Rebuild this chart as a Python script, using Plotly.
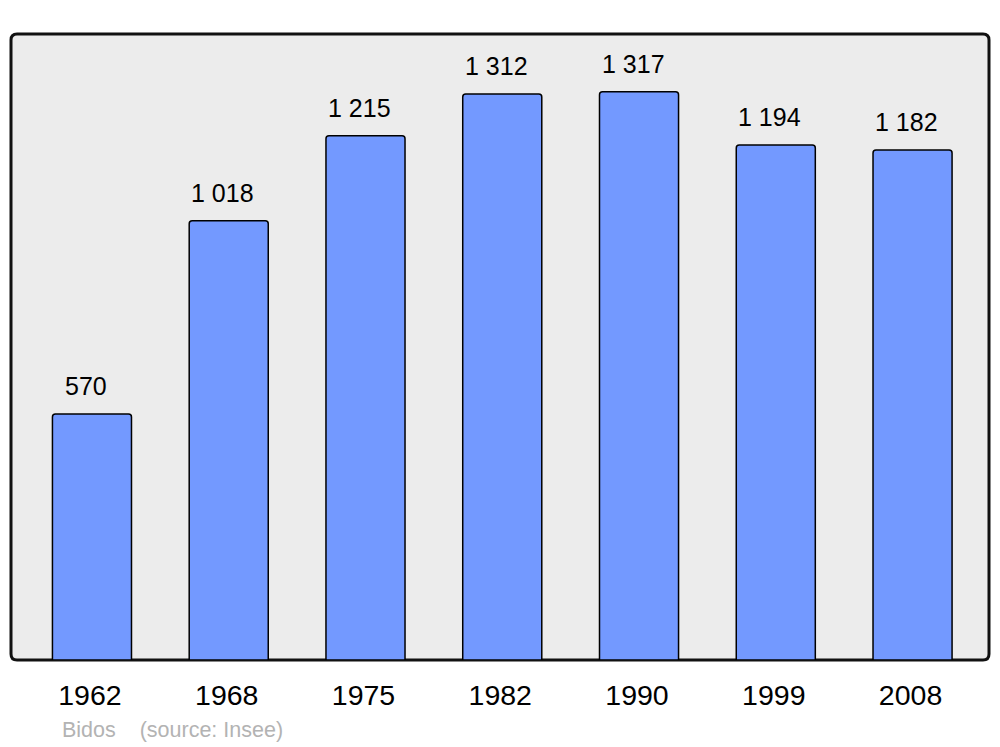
import plotly.graph_objects as go

years = ["1962", "1968", "1975", "1982", "1990", "1999", "2008"]
population = [570, 1018, 1215, 1312, 1317, 1194, 1182]
value_labels = [f"{v:,}".replace(",", " ") for v in population]
source_text = "Bidos\u00a0\u00a0\u00a0\u00a0(source: Insee)"

W, H = 1000, 747
left, right, top, bottom = 11, 989, 34, 660
x0p, x1p = left / W, right / W
y0p, y1p = (H - bottom) / H, (H - top) / H

idx = list(range(len(years)))

fig = go.Figure()
fig.add_trace(go.Bar(
    x=idx, y=population, width=0.578,
    marker=dict(color="#7399ff", line=dict(color="#000000", width=1.5), cornerradius=3),
    hoverinfo="skip",
))

# rounded frame
rx, ry = 6 / W, 6 / H
path = (f"M {x0p+rx},{y0p} L {x1p-rx},{y0p} Q {x1p},{y0p} {x1p},{y0p+ry} "
        f"L {x1p},{y1p-ry} Q {x1p},{y1p} {x1p-rx},{y1p} "
        f"L {x0p+rx},{y1p} Q {x0p},{y1p} {x0p},{y1p-ry} "
        f"L {x0p},{y0p+ry} Q {x0p},{y0p} {x0p+rx},{y0p} Z")
fig.add_shape(type="path", path=path, xref="paper", yref="paper",
              fillcolor="#ececec", line=dict(color="#111111", width=3), layer="below")

for i, (v, t) in enumerate(zip(population, value_labels)):
    fig.add_annotation(x=i, y=v, text=t, showarrow=False, yanchor="bottom",
                       yshift=12, xshift=-6, font=dict(size=25, color="#000000"))

fig.add_annotation(x=60 / W, y=(H - 730) / H, xref="paper", yref="paper",
                   xanchor="left", yanchor="middle", text=source_text, showarrow=False,
                   font=dict(size=21.5, color="#b3b3b3"))

fig.update_layout(
    width=W, height=H,
    margin=dict(l=0, r=0, t=0, b=0),
    paper_bgcolor="#ffffff", plot_bgcolor="rgba(0,0,0,0)",
    font=dict(family="Liberation Sans, Arial, sans-serif", color="#000000"),
    showlegend=False,
    xaxis=dict(domain=[x0p, x1p], range=[-0.592, 6.559], tickmode="array",
               tickvals=idx, ticktext=years, ticks="outside", ticklen=10,
               tickcolor="rgba(0,0,0,0)", showgrid=False, zeroline=False,
               ticklabelshift=-2,
               showline=False, tickfont=dict(size=28.5, color="#000000"), fixedrange=True),
    yaxis=dict(domain=[y0p, y1p], range=[0, 1451], visible=False, fixedrange=True),
)

fig.write_html("out.html", config={"displayModeBar": False},
               post_script="document.body.style.margin='0';document.body.style.overflow='hidden';")
